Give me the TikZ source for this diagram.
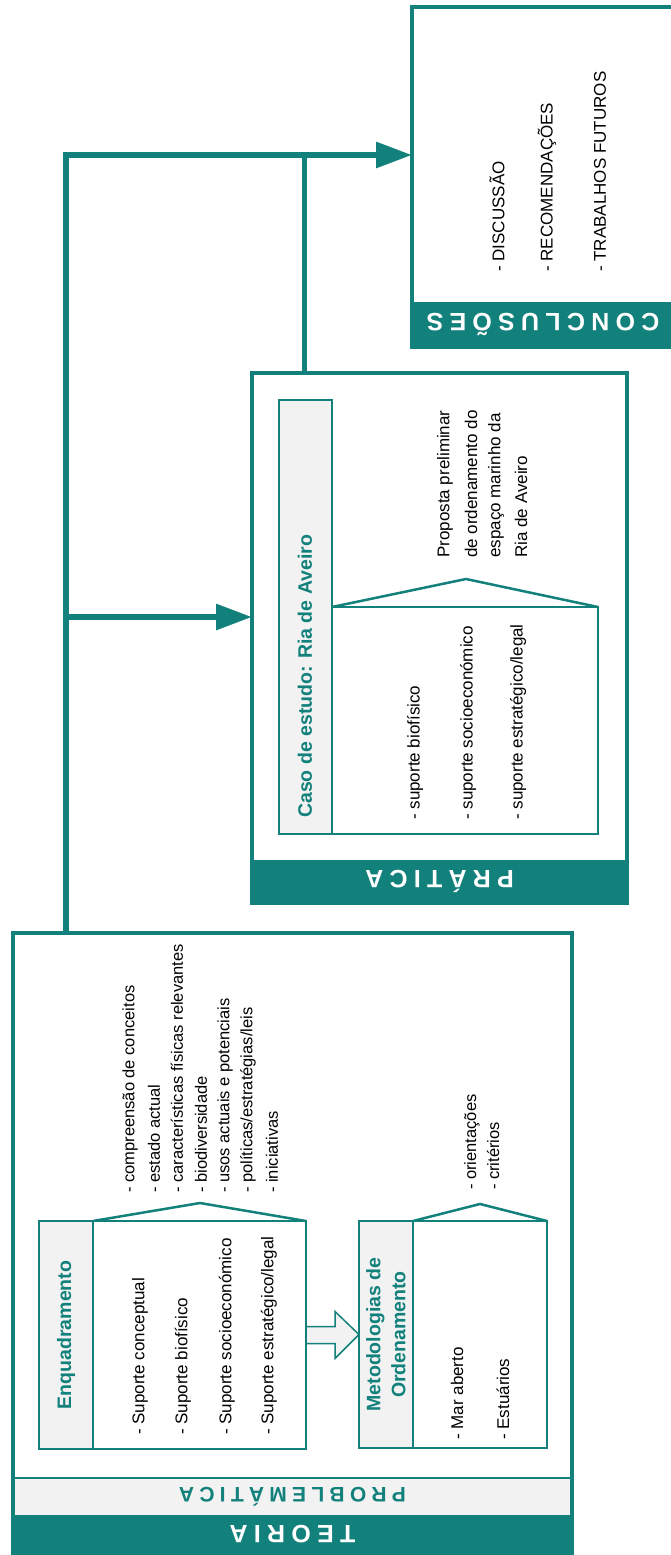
\documentclass[tikz,border=0pt]{standalone}
\usepackage{fontspec}
\setmainfont{Liberation Sans}
\newfontfamily\bandfont[LetterSpace=25]{Liberation Sans}
\usetikzlibrary{arrows.meta}
\definecolor{teal1}{RGB}{18,128,123}
\definecolor{lgray}{RGB}{242,242,242}
\begin{document}
\begin{tikzpicture}[x=1pt,y=-1pt,
  box/.style={inner sep=0pt, outer sep=0pt, anchor=north west},
  outerline/.style={draw=teal1, line width=4pt},
  innerline/.style={draw=teal1, line width=2.5pt},
  hdrfill/.style={box, fill=lgray, innerline},
  cbox/.style={box, fill=white, innerline},
  darkband/.style={box, fill=teal1},
  lightband/.style={box, fill=lgray},
  txt/.style={rotate=90, anchor=west, inner sep=0pt, font=\fontsize{17}{20}\selectfont},
  listtxt/.style={rotate=90, anchor=west, inner sep=0pt, font=\fontsize{16.5}{20}\selectfont},
  hdr/.style={rotate=90, inner sep=0pt, align=center, text=teal1, font=\bfseries\fontsize{19.5}{25}\selectfont},
  bandtxt/.style={rotate=180, inner sep=0pt, font=\bandfont\bfseries\fontsize{25}{30}\selectfont},
  conn/.style={draw=teal1, line width=6pt},
  tip/.style={-{Triangle[length=36pt,width=25pt]}},
  hollow/.style={draw=teal1, fill=lgray, line width=1.5pt, line join=miter},
  callout/.style={draw=teal1, line width=2.5pt, line join=miter}
]
\useasboundingbox (0,0) rectangle (670,1555);

% ---------- TEORIA ----------
\node[box, minimum width=559pt, minimum height=620pt] (teoria) at (13,933) {};
\node[darkband, minimum width=559pt, minimum height=38pt, anchor=south west] (teoriaband) at (teoria.south west) {};
\node[lightband, minimum width=559pt, minimum height=37pt, anchor=south west] (probband) at (teoriaband.north west) {};
\draw[teal1, line width=2pt] (probband.north west) -- (probband.north east);
\draw[outerline] (teoria.north west) rectangle (teoria.south east);
\node[bandtxt, text=white] (teoriatxt) at (teoriaband.center) {TEORIA};
\node[bandtxt, text=teal1, font=\bandfont\bfseries\fontsize{21}{25}\selectfont] (probtxt) at (probband.center) {PROBLEMÁTICA};

% Enquadramento
\node[hdrfill, minimum width=54pt, minimum height=228pt] (enqh) at (39,1221) {};
\node[cbox, minimum width=213pt, minimum height=228pt] (enqc) at (93,1221) {};
\coordinate (enqapex) at (200,1203);
\draw[callout] (enqc.north west) -- (enqapex) -- (enqc.north east);
\node[hdr] (enqt) at (enqh.center) {Enquadramento};
\node[txt] (e1) at (140,1435) {- Suporte conceptual};
\node[txt] (e2) at (183,1435) {- Suporte biofísico};
\node[txt] (e3) at (227,1435) {- Suporte socioeconómico};
\node[txt] (e4) at (269,1435) {- Suporte estratégico/legal};
\node[listtxt] (l1) at (130,1193) {- compreensão de conceitos};
\node[listtxt] (l2) at (154,1193) {- estado actual};
\node[listtxt] (l3) at (177,1193) {- características físicas relevantes};
\node[listtxt] (l4) at (201,1193) {- biodiversidade};
\node[listtxt] (l5) at (225,1193) {- usos actuais e potenciais};
\node[listtxt] (l6) at (248,1193) {- políticas/estratégias/leis};
\node[listtxt] (l7) at (272,1193) {- iniciativas};

% Metodologias
\node[hdrfill, minimum width=54pt, minimum height=227pt] (meth) at (359,1221) {};
\node[cbox, minimum width=134pt, minimum height=227pt] (metc) at (413,1221) {};
\coordinate (metapex) at (480,1204);
\draw[callout] (metc.north west) -- (metapex) -- (metc.north east);
\node[hdr] (mett) at (meth.center) {Metodologias de\\Ordenamento};
\node[txt] (m1) at (457,1440) {- Mar aberto};
\node[txt] (m2) at (503,1440) {- Estuários};
\node[listtxt] (m3) at (472,1190) {- orientações};
\node[listtxt] (m4) at (493,1190) {- critérios};

% hollow arrow
\draw[hollow] (enqc.east) ++(0,-8.5) -- ++(29,0) -- ++(0,-15) -- (meth.west) -- ++(-24,24) -- ++(0,-15) -- ++(-29,0) -- cycle;

% ---------- PRATICA ----------
\node[box, minimum width=375pt, minimum height=530pt] (pratica) at (252,373) {};
\node[darkband, minimum width=375pt, minimum height=43pt, anchor=south west] (praticaband) at (pratica.south west) {};
\draw[outerline] (pratica.north west) rectangle (pratica.south east);
\node[bandtxt, text=white] (praticatxt) at (praticaband.center) {PRÁTICA};

\node[hdrfill, minimum width=53pt, minimum height=434pt] (casoh) at (279,400) {};
\node[cbox, minimum width=266pt, minimum height=227pt] (casoc) at (332,607) {};
\coordinate (casoapex) at (466,579);
\draw[callout] (casoc.north west) -- (casoapex) -- (casoc.north east);
\node[hdr, anchor=west] (casot) at (305,818) {Caso de estudo: Ria de Aveiro};
\node[txt] (c1) at (415,820) {- suporte biofísico};
\node[txt] (c2) at (468,820) {- suporte socioeconómico};
\node[txt] (c3) at (518,820) {- suporte estratégico/legal};
\node[txt] (p1) at (445,558) {Proposta preliminar};
\node[txt] (p2) at (471,558) {de ordenamento do};
\node[txt] (p3) at (496,558) {espaço marinho da};
\node[txt] (p4) at (521,558) {Ria de Aveiro};

% ---------- CONCLUSOES ----------
\node[box, minimum width=262pt, minimum height=340pt] (conclusoes) at (412,7) {};
\node[darkband, minimum width=262pt, minimum height=45pt, anchor=south west] (concband) at (conclusoes.south west) {};
\draw[outerline] (conclusoes.north west) rectangle (conclusoes.south east);
\node[bandtxt, text=white] (conctxt) at (543,324.5) {CONCLUSÕES};
\node[txt] (k1) at (497,272) {- DISCUSSÃO};
\node[txt] (k2) at (547,272) {- RECOMENDAÇÕES};
\node[txt] (k3) at (600,272) {- TRABALHOS FUTUROS};

% ---------- connectors ----------
\coordinate (j1) at (66,155);
\coordinate (j2) at (66,617);
\coordinate (j3) at (304,155);
\draw[conn, tip] (teoria.north -| j1) -- (j1) -- (conclusoes.west |- j1);
\draw[conn, tip] (j2) -- (pratica.west |- j2);
\draw[conn, line width=5pt] (pratica.north -| j3) -- (j3);
\end{tikzpicture}
\end{document}
